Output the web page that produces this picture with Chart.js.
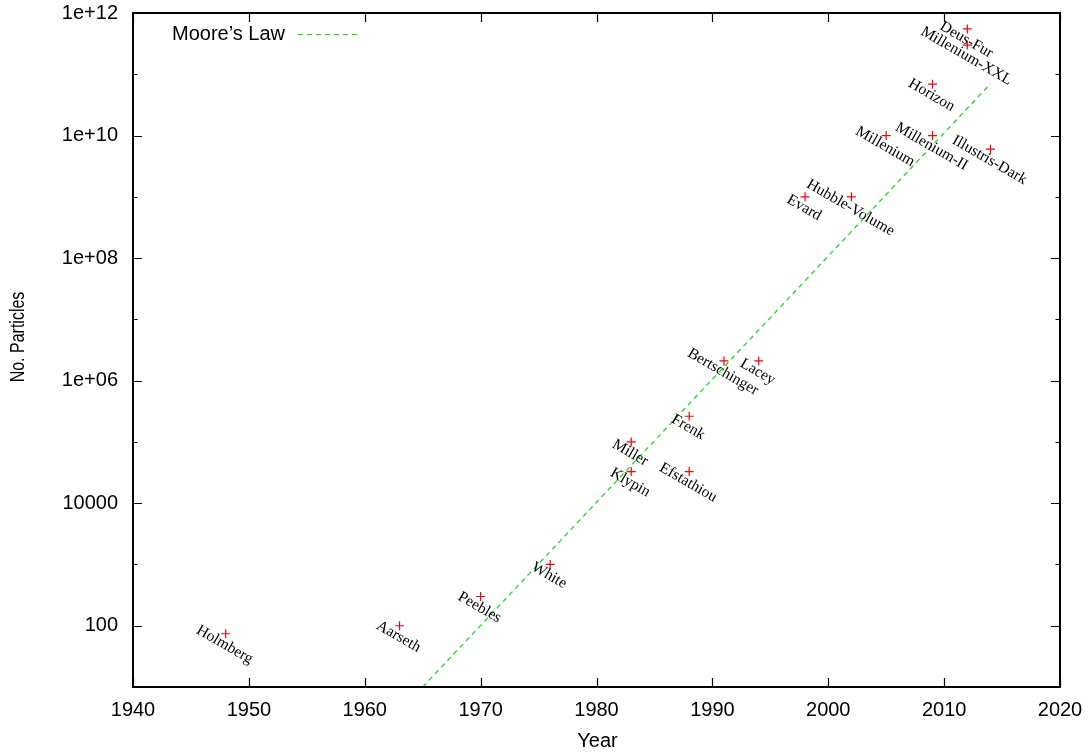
<!DOCTYPE html>
<html>
<head>
<meta charset="utf-8">
<script src="https://cdn.jsdelivr.net/npm/chart.js@4.4.1/dist/chart.umd.min.js"></script>
<style>
  html, body { margin: 0; padding: 0; background: #fff; }
  #wrap { width: 1090px; height: 754px; }
</style>
</head>
<body>
<div id="wrap"><canvas id="chart" width="1090" height="754"></canvas></div>
<script>
// N-body simulations: name, year, particle count
const simNames = ["Holmberg", "Aarseth", "Peebles", "White", "Miller", "Klypin", "Efstathiou", "Frenk",
  "Bertschinger", "Lacey", "Evard", "Hubble-Volume", "Millenium", "Millenium-II", "Horizon",
  "Deus-Fur", "Millenium-XXL", "Illustris-Dark"];
const simYears = [1948, 1963, 1970, 1976, 1983, 1983, 1988, 1988, 1991, 1994, 1998, 2002, 2005, 2009, 2009, 2012, 2012, 2014];
const simParticles = [74, 100, 300, 1000, 1e5, 32768, 32768, 262144, 2097152, 2097152, 1e9, 1e9, 1e10, 1e10, 6.9e10, 5.5e11, 3e11, 6e9];

// Moore's law trend line end points
const mooreYears = [1965, 2014];
const mooreParticles = [10, 7e10];

const yearTicks = [1940, 1950, 1960, 1970, 1980, 1990, 2000, 2010, 2020];
const particleTicks = [10, 100, 1e3, 1e4, 1e5, 1e6, 1e7, 1e8, 1e9, 1e10, 1e11, 1e12];
const particleTickLabels = ["", "100", "", "10000", "", "1e+06", "", "1e+08", "", "1e+10", "", "1e+12"];

const sans = "'Liberation Sans', Arial, sans-serif";
const serif = "'Liberation Serif', 'Times New Roman', serif";
const lineGreen = "#11dd11";

// gnuplot-like frame: full border, inward ticks mirrored on all sides,
// rotated point labels, key and axis titles
const framePlugin = {
    id: "frame",
    afterDraw(chart) {
        const ctx = chart.ctx;
        const { left, right, top, bottom } = chart.chartArea;
        const xs = chart.scales.x;
        const ys = chart.scales.y;
        ctx.save();

        ctx.strokeStyle = "#000";
        ctx.lineWidth = 1.2;
        ctx.beginPath();
        yearTicks.forEach((v) => {
            const x = Math.round(xs.getPixelForValue(v)) + 0.5;
            ctx.moveTo(x, bottom); ctx.lineTo(x, bottom - 9);
            ctx.moveTo(x, top); ctx.lineTo(x, top + 9);
        });
        particleTicks.forEach((v, i) => {
            const y = Math.round(ys.getPixelForValue(v)) + 0.5;
            const len = particleTickLabels[i] ? 9 : 4.5;
            ctx.moveTo(left, y); ctx.lineTo(left + len, y);
            ctx.moveTo(right, y); ctx.lineTo(right - len, y);
        });
        ctx.stroke();

        ctx.lineWidth = 2;
        ctx.strokeRect(left, top, right - left, bottom - top);

        // point labels
        const meta = chart.getDatasetMeta(0);
        ctx.fillStyle = "#000";
        ctx.font = "15.5px " + serif;
        ctx.textAlign = "center";
        ctx.textBaseline = "middle";
        meta.data.forEach((pt, i) => {
            ctx.save();
            ctx.translate(pt.x - 1, pt.y + 11);
            ctx.rotate(Math.PI / 6);
            ctx.fillText(simNames[i], 0, 0);
            ctx.restore();
        });

        // key
        ctx.font = "20px " + sans;
        ctx.textAlign = "right";
        ctx.fillText("Moore\u2019s Law", 285, 34);
        ctx.strokeStyle = lineGreen;
        ctx.lineWidth = 1.2;
        ctx.setLineDash([5, 4]);
        ctx.beginPath();
        ctx.moveTo(298, 34.5);
        ctx.lineTo(360, 34.5);
        ctx.stroke();
        ctx.setLineDash([]);

        // axis titles
        ctx.textAlign = "center";
        ctx.fillText("Year", (left + right) / 2 + 1, 741);
        ctx.save();
        ctx.translate(18, 337);
        ctx.rotate(-Math.PI / 2);
        ctx.scale(0.8, 1);
        ctx.fillText("No. Particles", 0, 0);
        ctx.restore();

        ctx.restore();
    },
};

// fixed axis sizes, no extra room reserved for overhanging tick labels
const fixX = (s) => { s.height = 67; s.paddingLeft = 0; s.paddingRight = 0; };
const fixY = (s) => { s.width = 133; s.paddingTop = 0; s.paddingBottom = 0; };

const ctx = document.getElementById("chart").getContext("2d");
const chart = new Chart(ctx, {
    type: "scatter",
    data: {
        datasets: [
            {
                data: simYears.map((y, i) => ({ x: y, y: simParticles[i] })),
                pointStyle: "cross",
                pointRadius: 4.5,
                borderColor: "#ff0000",
                backgroundColor: "#ff0000",
                borderWidth: 1.2,
            },
            {
                data: mooreYears.map((y, i) => ({ x: y, y: mooreParticles[i] })),
                showLine: true,
                pointRadius: 0,
                borderColor: lineGreen,
                borderWidth: 1.2,
                borderDash: [5, 4],
            },
        ],
    },
    options: {
        responsive: false,
        animation: false,
        devicePixelRatio: 1,
        layout: { padding: { top: 13, right: 30, left: 0, bottom: 0 } },
        scales: {
            x: {
                type: "linear",
                min: 1940,
                max: 2020,
                afterBuildTicks: (s) => { s.ticks = yearTicks.map((v) => ({ value: v })); },
                afterFit: fixX,
                grid: { display: false, drawTicks: false },
                border: { display: false },
                ticks: {
                    autoSkip: false,
                    maxRotation: 0,
                    padding: 11,
                    color: "#000",
                    font: { family: sans, size: 20 },
                    callback: (v) => String(v),
                },
            },
            y: {
                type: "logarithmic",
                min: 10,
                max: 1e12,
                afterBuildTicks: (s) => { s.ticks = particleTicks.map((v) => ({ value: v })); },
                afterFit: fixY,
                grid: { display: false, drawTicks: false },
                border: { display: false },
                ticks: {
                    autoSkip: false,
                    padding: 15,
                    color: "#000",
                    font: { family: sans, size: 20 },
                    callback: (v, i) => particleTickLabels[i],
                },
            },
        },
        plugins: {
            legend: { display: false },
            tooltip: { enabled: false },
        },
    },
    plugins: [framePlugin],
});
</script>
</body>
</html>
